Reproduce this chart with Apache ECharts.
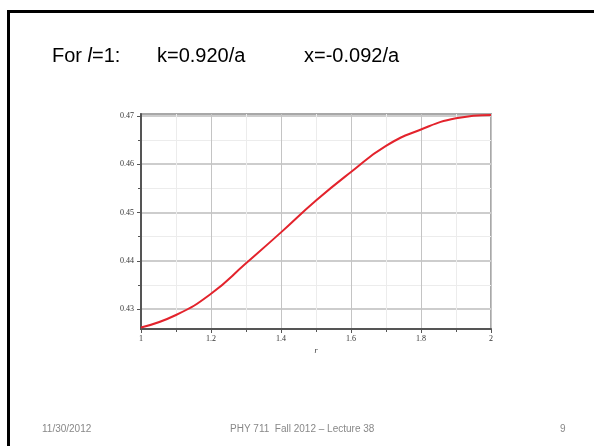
<!DOCTYPE html>
<html>
<head>
<meta charset="utf-8">
<script src="https://cdn.jsdelivr.net/npm/echarts@6/dist/echarts.min.js"></script>
<style>
  html, body { margin: 0; padding: 0; background: #fff; }
  #slide { position: relative; width: 594px; height: 446px; overflow: hidden; }
  #frame { position: absolute; left: 7px; top: 10px; width: 600px; height: 450px;
           border-left: 3px solid #000; border-top: 3px solid #000; }
  #chart { position: absolute; left: 0; top: 0; width: 594px; height: 446px; }
</style>
</head>
<body>
<div id="slide">
  <div id="frame"></div>
  <div id="chart"></div>
</div>
<script>
// r values and the curve
var rValues = [1.0, 1.1, 1.2, 1.3, 1.4, 1.5, 1.6, 1.7, 1.8, 1.9, 2.0];
var curve = [0.4262, 0.4288, 0.4332, 0.4395, 0.4459, 0.4525, 0.4584, 0.4638, 0.4672, 0.4695, 0.4702];
var yTicks = [0.43, 0.44, 0.45, 0.46, 0.47];
var yMinorTicks = [0.435, 0.445, 0.455, 0.465];

var seriesData = rValues.map(function (r, i) { return [r, curve[i]]; });

var sans = '"Liberation Sans", Arial, sans-serif';
var tickFont = { fontFamily: '"Liberation Serif", "DejaVu Serif", serif', fontSize: 8, color: '#333' };

function slideText(text, left, top, size, color) {
    return { text: text, left: left, top: top, padding: 0,
             textStyle: { fontFamily: sans, fontSize: size, fontWeight: 'normal', color: color } };
}

var option = {
    animation: false,
    title: [
        { text: '{a|For }{i|l}{a|=1:}', left: 52, top: 46, padding: 0,
          textStyle: { rich: {
              a: { fontFamily: sans, fontSize: 20, fontWeight: 'normal', color: '#000' },
              i: { fontFamily: sans, fontSize: 20, fontWeight: 'normal', fontStyle: 'italic', color: '#000' }
          } } },
        slideText('k=0.920/a', 157, 46, 20, '#000'),
        slideText('x=-0.092/a', 304, 46, 20, '#000'),
        slideText('11/30/2012', 42, 424, 10, '#888'),
        slideText('PHY 711  Fall 2012 \u2013 Lecture 38', 230, 424, 10, '#888'),
        slideText('9', 560, 424, 10, '#888')
    ],
    grid: {
        left: 141, right: 103, top: 114, bottom: 117,
        show: true, borderColor: '#a8a8a8', borderWidth: 2, backgroundColor: 'transparent'
    },
    xAxis: {
        type: 'value', min: 1, max: 2, interval: 0.2,
        name: 'r', nameLocation: 'middle', nameGap: 18,
        nameTextStyle: { fontFamily: '"Liberation Serif", serif', fontStyle: 'italic', fontSize: 8, color: '#333' },
        axisLine: { show: true, lineStyle: { color: '#555', width: 2 } },
        axisTick: { show: true, inside: false, length: 4, lineStyle: { color: '#555' } },
        minorTick: { show: true, splitNumber: 2, length: 3, lineStyle: { color: '#555' } },
        axisLabel: Object.assign({ margin: 6 }, tickFont),
        splitLine: { show: true, lineStyle: { color: '#c4c4c4', width: 1 } },
        minorSplitLine: { show: true, lineStyle: { color: '#ececec', width: 1 } }
    },
    yAxis: [
        {
            type: 'value', min: 0.4259, max: 0.4704,
            axisLine: { show: true, lineStyle: { color: '#555', width: 2 } },
            axisTick: { show: true, length: 4, customValues: yTicks, lineStyle: { color: '#555' } },
            axisLabel: Object.assign({ margin: 7, customValues: yTicks,
                formatter: function (v) { return v.toFixed(2); } }, tickFont),
            splitLine: { show: true, lineStyle: { color: '#cdcdcd', width: 2 } }
        },
        {
            type: 'value', min: 0.4259, max: 0.4704, position: 'left',
            axisLine: { show: false },
            axisTick: { show: true, length: 3, customValues: yMinorTicks, lineStyle: { color: '#555' } },
            axisLabel: { show: false },
            splitLine: { show: true, lineStyle: { color: '#ececec', width: 1 } }
        }
    ],
    series: [{
        type: 'line',
        data: seriesData,
        smooth: true,
        showSymbol: false,
        lineStyle: { color: '#e3232c', width: 2 },
        z: 5
    }]
};

var myChart = echarts.init(document.getElementById('chart'));
myChart.setOption(option);
</script>
</body>
</html>
